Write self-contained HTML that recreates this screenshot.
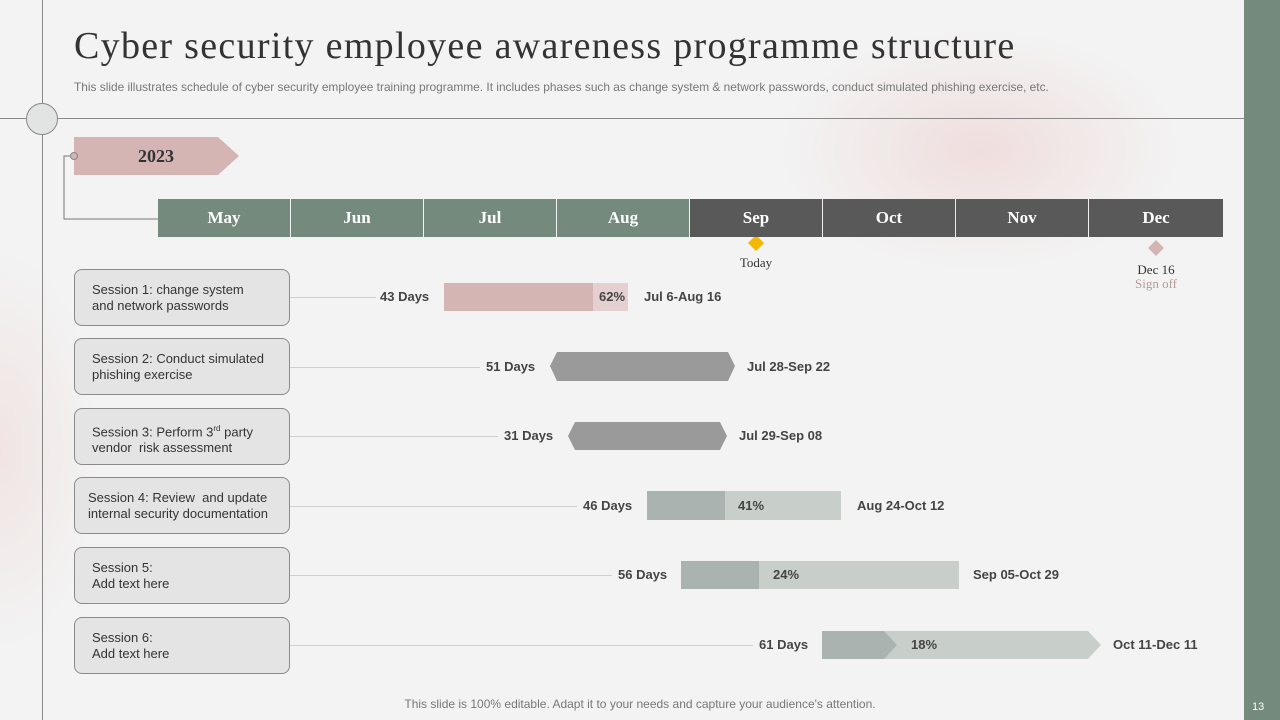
<!DOCTYPE html>
<html><head><meta charset="utf-8"><style>
*{margin:0;padding:0;box-sizing:border-box}
body{width:1280px;height:720px;overflow:hidden;position:relative;font-family:"Liberation Sans",sans-serif;
background:radial-gradient(ellipse 200px 120px at 980px 150px,#efdedd 0%,rgba(242,242,242,0) 100%),radial-gradient(ellipse 100px 200px at 0px 450px,#f0e4e3 0%,rgba(242,242,242,0) 100%),#f3f3f3;}
.a{position:absolute}
.t{font-family:"Liberation Serif",serif}
.box{position:absolute;left:74px;width:216px;height:57px;border:1px solid #8a8a8a;border-radius:8px;background:#e4e4e4;font-size:13px;color:#333;padding:12px 0 0 17px;line-height:16px}
.ln{position:absolute;left:290px;height:1px;background:#cfcfcf}
.lab{position:absolute;font-size:13px;font-weight:bold;color:#444;line-height:16px}
.m{position:absolute;top:199px;height:38px;width:132px;color:#fff;font-family:"Liberation Serif",serif;font-weight:bold;font-size:17px;text-align:center;line-height:38px}
</style></head><body>
<div class="a" style="left:1244px;top:0;width:36px;height:720px;background:#738a7c"></div>
<div class="a" style="left:1252px;top:701px;color:#fff;font-size:11px">13</div>
<div class="a" style="left:42px;top:0;width:1px;height:720px;background:#888"></div>
<div class="a" style="left:0;top:118px;width:1244px;height:1px;background:#888"></div>
<div class="a" style="left:26px;top:103px;width:32px;height:32px;border-radius:50%;background:#e2e4e3;border:1px solid #888"></div>
<div class="a t" style="left:74px;top:24px;font-size:38px;letter-spacing:1.3px;color:#333;white-space:nowrap">Cyber security employee awareness programme structure</div>
<div class="a" style="left:74px;top:80px;font-size:11.9px;color:#777;white-space:nowrap">This slide illustrates schedule of cyber security employee training programme. It includes phases such as change system &amp; network passwords, conduct simulated phishing exercise, etc.</div>
<svg class="a" style="left:0;top:0" width="1280" height="720">
<polygon points="74,137 218,137 239,156 218,175 74,175" fill="#d4b5b4"/>
<polyline points="74,156 64,156 64,219 158,219" fill="none" stroke="#777" stroke-width="1"/>
<circle cx="74" cy="156" r="3.5" fill="#d4b5b4" stroke="#888"/>
<polygon points="756,235 764,243 756,251 748,243" fill="#f5b800"/>
<polygon points="1156,240 1164,248 1156,256 1148,248" fill="#d4b5b4"/>
<rect x="444" y="283" width="149" height="28" fill="#d4b5b4"/><rect x="593" y="283" width="35" height="28" fill="#e4d0d0"/>
<polygon points="557,352 728,352 735,366 728,381 557,381 550,366" fill="#9a9a9a"/>
<polygon points="575,422 720,422 727,436 720,450 575,450 568,436" fill="#9a9a9a"/>
<rect x="647" y="491" width="78" height="29" fill="#aab3af"/><rect x="725" y="491" width="116" height="29" fill="#c8cfcb"/>
<rect x="681" y="561" width="78" height="28" fill="#aab3af"/><rect x="759" y="561" width="200" height="28" fill="#c8cfcb"/>
<polygon points="882,631 1088,631 1101,645 1088,659 882,659" fill="#c8cfcb"/>
<polygon points="822,631 884,631 897,645 884,659 822,659" fill="#aab3af"/>
</svg>
<div class="a t" style="left:74px;top:146px;width:164px;text-align:center;font-size:18px;font-weight:bold;color:#333">2023</div>
<div class="m" style="left:158px;background:#738a7c">May</div>
<div class="m" style="left:291px;background:#738a7c">Jun</div>
<div class="m" style="left:424px;background:#738a7c">Jul</div>
<div class="m" style="left:557px;background:#738a7c">Aug</div>
<div class="m" style="left:690px;background:#595959">Sep</div>
<div class="m" style="left:823px;background:#595959">Oct</div>
<div class="m" style="left:956px;background:#595959">Nov</div>
<div class="m" style="left:1089px;width:134px;background:#595959">Dec</div>
<div class="a t" style="left:720px;top:255px;width:72px;text-align:center;font-size:13px;color:#333">Today</div>
<div class="a t" style="left:1116px;top:263px;width:80px;text-align:center;font-size:13px;color:#333;line-height:14px">Dec 16<br><span style="color:#b89a99">Sign off</span></div>

<div class="box" style="top:269px">Session 1: change system<br>and network passwords</div>
<div class="box" style="top:338px">Session 2: Conduct simulated<br>phishing exercise</div>
<div class="box" style="top:408px">Session 3: Perform 3<sup style="font-size:8px">rd</sup> party<br>vendor&nbsp; risk assessment</div>
<div class="box" style="top:477px;padding-left:13px">Session 4: Review&nbsp; and update<br>internal security documentation</div>
<div class="box" style="top:547px">Session 5:<br>Add text here</div>
<div class="box" style="top:617px">Session 6:<br>Add text here</div>

<div class="ln" style="top:297px;width:86px"></div>
<div class="ln" style="top:367px;width:190px"></div>
<div class="ln" style="top:436px;width:208px"></div>
<div class="ln" style="top:506px;width:287px"></div>
<div class="ln" style="top:575px;width:322px"></div>
<div class="ln" style="top:645px;width:463px"></div>

<div class="lab" style="left:380px;top:289px">43 Days</div>
<div class="lab" style="left:599px;top:289px">62%</div>
<div class="lab" style="left:644px;top:289px">Jul 6-Aug 16</div>
<div class="lab" style="left:486px;top:359px">51 Days</div>
<div class="lab" style="left:747px;top:359px">Jul 28-Sep 22</div>
<div class="lab" style="left:504px;top:428px">31 Days</div>
<div class="lab" style="left:739px;top:428px">Jul 29-Sep 08</div>
<div class="lab" style="left:583px;top:498px">46 Days</div>
<div class="lab" style="left:738px;top:498px">41%</div>
<div class="lab" style="left:857px;top:498px">Aug 24-Oct 12</div>
<div class="lab" style="left:618px;top:567px">56 Days</div>
<div class="lab" style="left:773px;top:567px">24%</div>
<div class="lab" style="left:973px;top:567px">Sep 05-Oct 29</div>
<div class="lab" style="left:759px;top:637px">61 Days</div>
<div class="lab" style="left:911px;top:637px">18%</div>
<div class="lab" style="left:1113px;top:637px">Oct 11-Dec 11</div>

<div class="a" style="left:0;top:697px;width:1280px;text-align:center;font-size:12px;color:#777">This slide is 100% editable. Adapt it to your needs and capture your audience's attention.</div>
</body></html>
